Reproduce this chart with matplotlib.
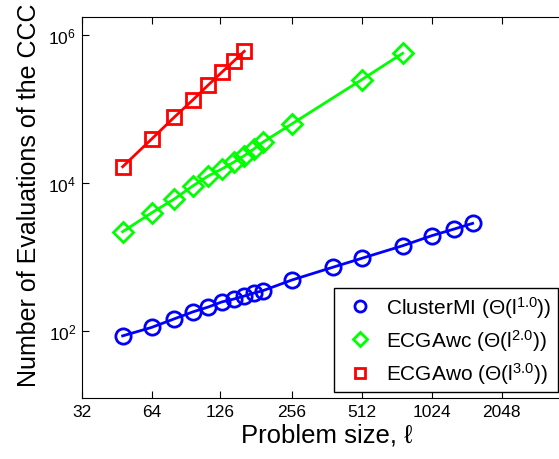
import matplotlib
matplotlib.use('Agg')
import matplotlib.pyplot as plt
from matplotlib.lines import Line2D
from matplotlib.ticker import NullLocator

plt.rcParams['font.family'] = ['Liberation Sans', 'DejaVu Sans']
plt.rcParams['mathtext.fontset'] = 'custom'
plt.rcParams['mathtext.rm'] = 'Liberation Sans'
plt.rcParams['mathtext.it'] = 'Liberation Sans:italic'

# problem sizes
x_mi = [48, 64, 80, 96, 112, 128, 144, 160, 176, 192, 256, 384, 512, 768, 1024, 1280, 1536]
x_wc = [48, 64, 80, 96, 112, 128, 144, 160, 176, 192, 256, 512, 768]
x_wo = [48, 64, 80, 96, 112, 128, 144, 160]

# number of evaluations
y_mi = [86, 112, 146, 181, 211, 247, 270, 297, 326, 350, 488, 726, 960, 1420, 1941, 2389, 2851]
y_wc = [2197, 3958, 6075, 9108, 12450, 15430, 19050, 23410, 28830, 35430, 62670, 249000, 566000]
y_wo = [16600, 39370, 77350, 131900, 210700, 312800, 441600, 602200]

labels = [r'ClusterMI ($\Theta$(l$^{1.0}$))',
          r'ECGAwc ($\Theta$(l$^{2.0}$))',
          r'ECGAwo ($\Theta$(l$^{3.0}$))']

xticks = [32, 64, 126, 256, 512, 1024, 2048]
yticks = [1e2, 1e4, 1e6]

W, H = 559, 460
fig = plt.figure(figsize=(W / 100, H / 100), dpi=100)
ax = fig.add_axes([81.7 / W, 1 - 399 / H, 7 * 70 / W, (399 - 17.5) / H])

ax.plot(x_mi, y_mi, '-o', color='blue', lw=2, ms=11, mew=2, mfc='none')
ax.plot(x_wc, y_wc, '-D', color='#00ff00', lw=2, ms=10, mew=2, mfc='none')
ax.plot(x_wo, y_wo, '-s', color='red', lw=2, ms=9.5, mew=2, mfc='none')

ax.set_xscale('log', base=2)
ax.set_yscale('log')
ax.set_xlim(32, 4096)
ax.set_ylim(10 ** 1.095, 10 ** 6.25)
ax.set_xticks(xticks)
ax.set_xticklabels([str(v) for v in xticks])
ax.set_yticks(yticks)
ax.set_yticklabels([r'$10^{2}$', r'$10^{4}$', r'$10^{6}$'])
ax.xaxis.set_minor_locator(NullLocator())
ax.yaxis.set_minor_locator(NullLocator())
ax.tick_params(direction='in', length=5, top=True, right=True, labelsize=12.5, pad=4)

ax.set_xlabel('Problem size, ℓ', fontsize=18.5, labelpad=3)
ax.set_ylabel('Number of Evaluations of the CCC', fontsize=18, labelpad=5)
ax.yaxis.label.set_y(0.535)

handles = [Line2D([], [], ls='none', marker='o', color='blue', ms=8, mew=2, mfc='none'),
           Line2D([], [], ls='none', marker='D', color='#00ff00', ms=7, mew=2, mfc='none'),
           Line2D([], [], ls='none', marker='s', color='red', ms=7, mew=2, mfc='none')]
leg = ax.legend(handles, labels, loc='lower right', bbox_to_anchor=(558 / W, 1 - 393.3 / H),
                bbox_transform=fig.transFigure, borderaxespad=0, fontsize=15, fancybox=False,
                framealpha=1, edgecolor='black', handlelength=1.9, handletextpad=0.3,
                labelspacing=0.35, borderpad=0.3)
leg.get_frame().set_linewidth(1)

fig.savefig('out.png', dpi=100)
